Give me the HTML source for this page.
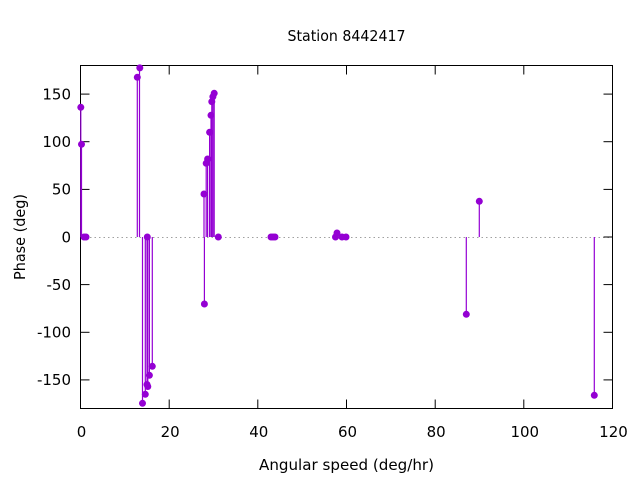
<!DOCTYPE html>
<html>
<head>
<meta charset="utf-8">
<style>
html,body{margin:0;padding:0;background:#fff;}
svg{display:block;}
text{font-family:"DejaVu Sans","Liberation Sans",sans-serif;font-size:15px;fill:#000;}
</style>
</head>
<body>
<svg width="640" height="480" viewBox="0 0 640 480" xmlns="http://www.w3.org/2000/svg">
<rect x="0" y="0" width="640" height="480" fill="#fff"/>
<!-- zero axis -->
<line x1="81" y1="237.5" x2="612" y2="237.5" stroke="#a0a0a0" stroke-width="1" stroke-dasharray="1.5,3"/>
<!-- ticks -->
<g stroke="#000" stroke-width="1">
<line x1="80.5" y1="94.1" x2="89.5" y2="94.1"/><line x1="603.5" y1="94.1" x2="612.5" y2="94.1"/>
<line x1="80.5" y1="141.7" x2="89.5" y2="141.7"/><line x1="603.5" y1="141.7" x2="612.5" y2="141.7"/>
<line x1="80.5" y1="189.4" x2="89.5" y2="189.4"/><line x1="603.5" y1="189.4" x2="612.5" y2="189.4"/>
<line x1="80.5" y1="237" x2="89.5" y2="237"/><line x1="603.5" y1="237" x2="612.5" y2="237"/>
<line x1="80.5" y1="284.6" x2="89.5" y2="284.6"/><line x1="603.5" y1="284.6" x2="612.5" y2="284.6"/>
<line x1="80.5" y1="332.3" x2="89.5" y2="332.3"/><line x1="603.5" y1="332.3" x2="612.5" y2="332.3"/>
<line x1="80.5" y1="379.9" x2="89.5" y2="379.9"/><line x1="603.5" y1="379.9" x2="612.5" y2="379.9"/>
<line x1="169.2" y1="408.5" x2="169.2" y2="399.5"/><line x1="169.2" y1="65.5" x2="169.2" y2="74.5"/>
<line x1="257.8" y1="408.5" x2="257.8" y2="399.5"/><line x1="257.8" y1="65.5" x2="257.8" y2="74.5"/>
<line x1="346.5" y1="408.5" x2="346.5" y2="399.5"/><line x1="346.5" y1="65.5" x2="346.5" y2="74.5"/>
<line x1="435.2" y1="408.5" x2="435.2" y2="399.5"/><line x1="435.2" y1="65.5" x2="435.2" y2="74.5"/>
<line x1="523.8" y1="408.5" x2="523.8" y2="399.5"/><line x1="523.8" y1="65.5" x2="523.8" y2="74.5"/>
</g>
<!-- border -->
<rect x="80.5" y="65.5" width="532" height="343" fill="none" stroke="#000" stroke-width="1"/>
<!-- impulses -->
<g stroke="#9400d3" stroke-width="1.2">
<line x1="80.8" y1="237" x2="80.8" y2="107.3"/>
<line x1="81.5" y1="237" x2="81.5" y2="144.3"/>
<line x1="137.3" y1="237" x2="137.3" y2="77.3"/>
<line x1="139.5" y1="237" x2="139.5" y2="67.7"/>
<line x1="142.5" y1="237" x2="142.5" y2="403.3"/>
<line x1="145.3" y1="237" x2="145.3" y2="394.3"/>
<line x1="147.0" y1="237" x2="147.0" y2="384.5"/>
<line x1="147.8" y1="237" x2="147.8" y2="386.5"/>
<line x1="149.4" y1="237" x2="149.4" y2="375.3"/>
<line x1="152.3" y1="237" x2="152.3" y2="366.3"/>
<line x1="204.0" y1="237" x2="204.0" y2="194"/>
<line x1="204.4" y1="237" x2="204.4" y2="304"/>
<line x1="206.2" y1="237" x2="206.2" y2="163.3"/>
<line x1="207.6" y1="237" x2="207.6" y2="159"/>
<line x1="209.6" y1="237" x2="209.6" y2="132.3"/>
<line x1="211.0" y1="237" x2="211.0" y2="115.3"/>
<line x1="211.8" y1="237" x2="211.8" y2="101.7"/>
<line x1="212.9" y1="237" x2="212.9" y2="96.7"/>
<line x1="214.2" y1="237" x2="214.2" y2="93.3"/>
<line x1="337" y1="237" x2="337" y2="233"/>
<line x1="466.3" y1="237" x2="466.3" y2="314.3"/>
<line x1="479.3" y1="237" x2="479.3" y2="201.3"/>
<line x1="594.3" y1="237" x2="594.3" y2="395.3"/>
</g>
<!-- points -->
<g fill="#9400d3">
<circle cx="80.8" cy="107.3" r="3.5"/>
<circle cx="81.5" cy="144.3" r="3.5"/>
<circle cx="84" cy="237" r="3.5"/>
<circle cx="86" cy="237" r="3.5"/>
<circle cx="137.3" cy="77.3" r="3.5"/>
<circle cx="139.8" cy="67.9" r="3.5"/>
<circle cx="142.5" cy="403.3" r="3.5"/>
<circle cx="145.3" cy="394.3" r="3.5"/>
<circle cx="147.0" cy="384.5" r="3.5"/>
<circle cx="147.8" cy="386.5" r="3.5"/>
<circle cx="149.4" cy="375.3" r="3.5"/>
<circle cx="152.3" cy="366.3" r="3.5"/>
<circle cx="147.3" cy="237" r="3.5"/>
<circle cx="204.0" cy="194" r="3.5"/>
<circle cx="204.4" cy="304" r="3.5"/>
<circle cx="206.2" cy="163.3" r="3.5"/>
<circle cx="207.6" cy="159" r="3.5"/>
<circle cx="209.6" cy="132.3" r="3.5"/>
<circle cx="211.0" cy="115.3" r="3.5"/>
<circle cx="211.8" cy="101.7" r="3.5"/>
<circle cx="212.9" cy="96.7" r="3.5"/>
<circle cx="214.2" cy="93.3" r="3.5"/>
<circle cx="218.3" cy="237" r="3.5"/>
<circle cx="271" cy="237" r="3.5"/>
<circle cx="273" cy="237" r="3.5"/>
<circle cx="275" cy="237" r="3.5"/>
<circle cx="335.5" cy="237" r="3.5"/>
<circle cx="337" cy="233" r="3.5"/>
<circle cx="342" cy="237" r="3.5"/>
<circle cx="346" cy="237" r="3.5"/>
<circle cx="466.3" cy="314.3" r="3.5"/>
<circle cx="479.3" cy="201.3" r="3.5"/>
<circle cx="594.3" cy="395.3" r="3.5"/>
</g>
<!-- y tick labels -->
<g text-anchor="end">
<text x="71" y="99.5">150</text>
<text x="71" y="147">100</text>
<text x="71" y="194.5">50</text>
<text x="71" y="242.5">0</text>
<text x="71" y="290">-50</text>
<text x="71" y="337.5">-100</text>
<text x="71" y="385">-150</text>
</g>
<!-- x tick labels -->
<g text-anchor="middle">
<text x="81.5" y="437">0</text>
<text x="170.2" y="437">20</text>
<text x="258.8" y="437">40</text>
<text x="347.5" y="437">60</text>
<text x="436.2" y="437">80</text>
<text x="524.8" y="437">100</text>
<text x="613.5" y="437">120</text>
</g>
<!-- titles -->
<text x="346.5" y="41" text-anchor="middle" textLength="118" lengthAdjust="spacingAndGlyphs">Station 8442417</text>
<text x="346.5" y="470" text-anchor="middle" textLength="175" lengthAdjust="spacingAndGlyphs">Angular speed (deg/hr)</text>
<text transform="translate(25,237) rotate(-90)" x="0" y="0" text-anchor="middle" textLength="86" lengthAdjust="spacingAndGlyphs">Phase (deg)</text>
</svg>
</body>
</html>
